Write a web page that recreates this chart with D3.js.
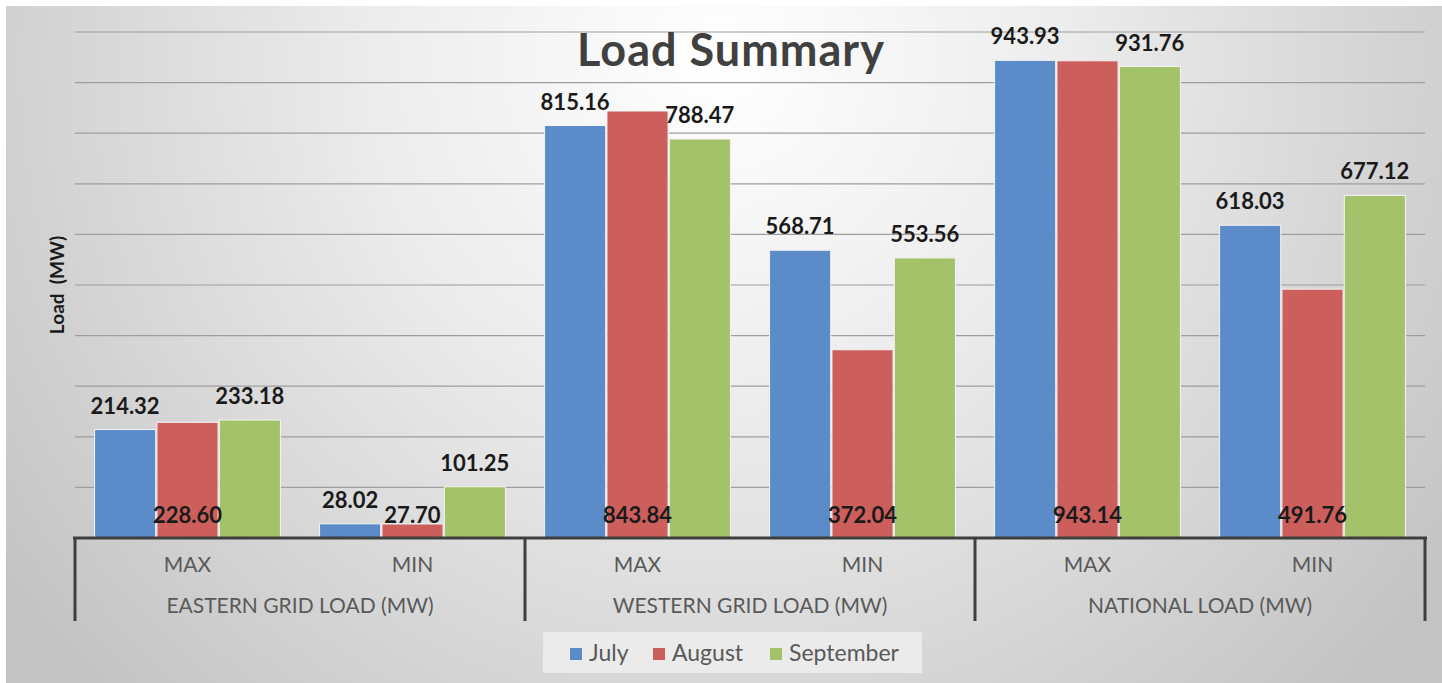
<!DOCTYPE html>
<html>
<head>
<meta charset="utf-8">
<script src="https://cdn.jsdelivr.net/npm/d3@7"></script>
<style>
    body { margin: 0; background: #fff; }
    text { font-family: Lato, "Open Sans", sans-serif; }
</style>
</head>
<body>
<div class="chart"></div>
<script>
// sub categories and the groups they belong to
var subCategories = ['MAX', 'MIN', 'MAX', 'MIN', 'MAX', 'MIN'];
var groups = ['EASTERN GRID LOAD (MW)', 'WESTERN GRID LOAD (MW)', 'NATIONAL LOAD (MW)'];
var seriesNames = ['July', 'August', 'September'];

// values per series, in the order of subCategories
var july = [214.32, 28.02, 815.16, 568.71, 943.93, 618.03];
var august = [228.60, 27.70, 843.84, 372.04, 943.14, 491.76];
var september = [233.18, 101.25, 788.47, 553.56, 931.76, 677.12];

var yTicks = [0, 100, 200, 300, 400, 500, 600, 700, 800, 900, 1000];

var colors = ['#5b8bc8', '#cc5f5c', '#a3c269'];

var W = 1442, H = 683;
var margin = { top: 32, right: 17, bottom: 145, left: 75 };
var width = W - margin.left - margin.right;
var height = H - margin.top - margin.bottom;

var svg = d3.select('.chart')
    .append('svg')
    .attr('width', W)
    .attr('height', H);

// background with soft radial shading
var grad = svg.append('defs')
    .append('radialGradient')
    .attr('id', 'bg')
    .attr('gradientUnits', 'userSpaceOnUse')
    .attr('cx', 720).attr('cy', 60).attr('r', 880);
grad.append('stop').attr('offset', 0).attr('stop-color', '#ffffff');
grad.append('stop').attr('offset', 0.4).attr('stop-color', '#ececec');
grad.append('stop').attr('offset', 1).attr('stop-color', '#c4c4c4');

svg.append('rect')
    .attr('x', 6).attr('y', 6)
    .attr('width', W - 6).attr('height', H - 6)
    .style('fill', 'url(#bg)');

var g = svg.append('g')
    .attr('transform', 'translate(' + margin.left + ', ' + margin.top + ')');

/**
 * Scales
 */
var keys = subCategories.map((d, i) => i);
var x0 = d3.scaleBand()
    .domain(keys)
    .range([0, width])
    .padding(0);

var inset = x0.bandwidth() * 0.087;
var x1 = d3.scaleBand()
    .domain(seriesNames)
    .range([inset, x0.bandwidth() - inset])
    .paddingInner(0.02);

var yScale = d3.scaleLinear()
    .domain([0, 1000])
    .range([height, 0]);

/**
 * Gridlines
 */
g.append('g')
    .selectAll('line')
    .data(yTicks.slice(1))
    .enter()
    .append('line')
    .attr('x1', 0)
    .attr('x2', width)
    .attr('y1', d => yScale(d))
    .attr('y2', d => yScale(d))
    .style('stroke', '#9e9e9e')
    .style('stroke-width', 1.2);

/**
 * Bars
 */
var series = [july, august, september];
var rows = [];
series.forEach((vals, s) => {
    vals.forEach((v, i) => {
        rows.push({ i: i, s: s, name: seriesNames[s], value: v });
    });
});

g.selectAll('.bar')
    .data(rows)
    .enter()
    .append('rect')
    .attr('class', 'bar')
    .attr('x', d => x0(d.i) + x1(d.name))
    .attr('y', d => yScale(d.value))
    .attr('width', x1.bandwidth())
    .attr('height', d => height - yScale(d.value))
    .style('fill', d => colors[d.s])
    .style('stroke', '#f4f4f4')
    .style('stroke-width', 1);

// data labels: August sits at inside base, the others above the bar
var fmt = d3.format('.2f');
g.selectAll('.label')
    .data(rows)
    .enter()
    .append('text')
    .attr('class', 'label')
    .attr('x', d => x0(d.i) + x1(d.name) + x1.bandwidth() / 2)
    .attr('y', d => d.s === 1 ? height - 15 : yScale(d.value) - 16)
    .style('text-anchor', 'middle')
    .style('font-size', '22px')
    .style('font-weight', 'bold')
    .style('fill', '#1a1a1a')
    .text(d => fmt(d.value));

/**
 * X axis with grouped categories
 */
var axis = g.append('g')
    .attr('transform', `translate(0, ${height})`);

axis.append('line')
    .attr('x1', -2)
    .attr('x2', width + 2)
    .style('stroke', '#3f3f3f')
    .style('stroke-width', 3);

var groupW = width / groups.length;
axis.selectAll('.sep')
    .data(d3.range(groups.length + 1))
    .enter()
    .append('line')
    .attr('x1', d => d * groupW)
    .attr('x2', d => d * groupW)
    .attr('y1', 0)
    .attr('y2', 83)
    .style('stroke', '#3f3f3f')
    .style('stroke-width', 3);

axis.selectAll('.sub')
    .data(subCategories)
    .enter()
    .append('text')
    .attr('x', (d, i) => x0(i) + x0.bandwidth() / 2)
    .attr('y', 34)
    .style('text-anchor', 'middle')
    .style('font-size', '21px')
    .style('fill', '#595959')
    .text(d => d);

axis.selectAll('.grp')
    .data(groups)
    .enter()
    .append('text')
    .attr('x', (d, i) => (i + 0.5) * groupW)
    .attr('y', 75)
    .style('text-anchor', 'middle')
    .style('font-size', '21px')
    .style('fill', '#595959')
    .text(d => d);

/**
 * Title and y label
 */
svg.append('text')
    .attr('x', 731)
    .attr('y', 66)
    .style('text-anchor', 'middle')
    .style('font-size', '45px')
    .style('font-weight', 'bold')
    .style('letter-spacing', '1px')
    .style('fill', '#404040')
    .text('Load Summary');

svg.append('text')
    .attr('transform', 'translate(64, 285) rotate(-90)')
    .style('text-anchor', 'middle')
    .style('font-size', '19px')
    .style('font-weight', 'bold')
    .style('fill', '#1a1a1a')
    .style('white-space', 'pre')
    .text('Load  (MW)');

/**
 * Legend
 */
var legend = svg.append('g')
    .attr('transform', 'translate(543, 632)');

legend.append('rect')
    .attr('width', 379)
    .attr('height', 41)
    .style('fill', '#ebebeb');

var legendX = [27, 110, 227];
var items = legend.selectAll('.item')
    .data(seriesNames)
    .enter()
    .append('g')
    .attr('transform', (d, i) => `translate(${legendX[i]}, 0)`);

items.append('rect')
    .attr('y', 16)
    .attr('width', 12)
    .attr('height', 12)
    .style('fill', (d, i) => colors[i]);

items.append('text')
    .attr('x', 19)
    .attr('y', 29)
    .style('font-size', '23px')
    .style('fill', '#595959')
    .text(d => d);
</script>
</body>
</html>
